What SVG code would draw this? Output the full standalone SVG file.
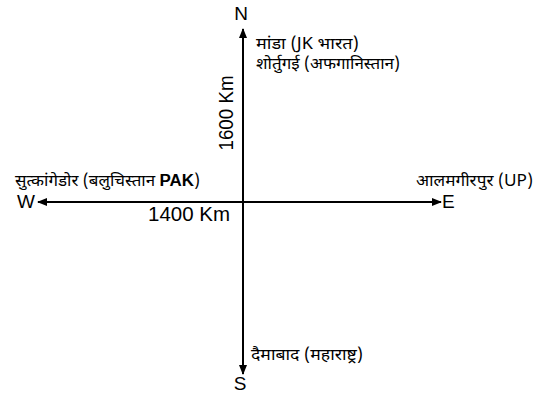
<svg xmlns="http://www.w3.org/2000/svg" width="549" height="394" viewBox="0 0 549 394">
<style>
.lat{font-family:"Liberation Sans",Arial,sans-serif;fill:#000}
.dev{font-family:"Noto Sans Devanagari","Noto Sans","Liberation Sans",sans-serif;font-size:16px;fill:#000}
.axis{stroke:#000;stroke-width:2;fill:none}
</style>
<defs>
<marker id="ah" markerWidth="10" markerHeight="8" refX="9" refY="4" orient="auto" markerUnits="userSpaceOnUse">
<path d="M0,0 L10,4 L0,8 Z" fill="#000"/>
</marker>
</defs>
<rect width="549" height="394" fill="#fff"/>
<g id="connectors">
<line class="axis" x1="243" y1="202" x2="243" y2="29" marker-end="url(#ah)"/>
<line class="axis" x1="243" y1="202" x2="243" y2="374" marker-end="url(#ah)"/>
<line class="axis" x1="243" y1="202" x2="38" y2="202" marker-end="url(#ah)"/>
<line class="axis" x1="243" y1="202" x2="441" y2="202" marker-end="url(#ah)"/>
</g>
<g id="n-north"><text class="lat" x="241" y="20" font-size="19" text-anchor="middle">N</text></g>
<g id="n-south"><text class="lat" x="240" y="390" font-size="19" text-anchor="middle">S</text></g>
<g id="n-west"><text class="lat" x="17" y="208" font-size="19">W</text></g>
<g id="n-east"><text class="lat" x="442" y="208" font-size="19">E</text></g>
<g id="n-1600"><text class="lat" transform="translate(233,113) rotate(-90)" font-size="20" text-anchor="middle" textLength="75" lengthAdjust="spacingAndGlyphs">1600 Km</text></g>
<g id="n-1400"><text class="lat" x="148" y="221" font-size="20" textLength="82" lengthAdjust="spacingAndGlyphs">1400 Km</text></g>
<g id="n-manda"><text class="dev" x="256" y="49" textLength="103" lengthAdjust="spacingAndGlyphs">मांडा (JK भारत)</text></g>
<g id="n-shortugai"><text class="dev" x="256" y="69" textLength="144" lengthAdjust="spacingAndGlyphs">शोर्तुगई (अफगानिस्तान)</text></g>
<g id="n-sutkagendor"><text class="dev" x="15" y="186" textLength="185" lengthAdjust="spacingAndGlyphs">सुत्कांगेडोर (बलुचिस्तान <tspan font-family="'Liberation Sans',sans-serif" font-weight="bold">PAK</tspan>)</text></g>
<g id="n-alamgirpur"><text class="dev" x="416" y="186" textLength="117" lengthAdjust="spacingAndGlyphs">आलमगीरपुर (UP)</text></g>
<g id="n-daimabad"><text class="dev" x="251" y="360" textLength="112" lengthAdjust="spacingAndGlyphs">दैमाबाद (महाराष्ट्र)</text></g>
</svg>
